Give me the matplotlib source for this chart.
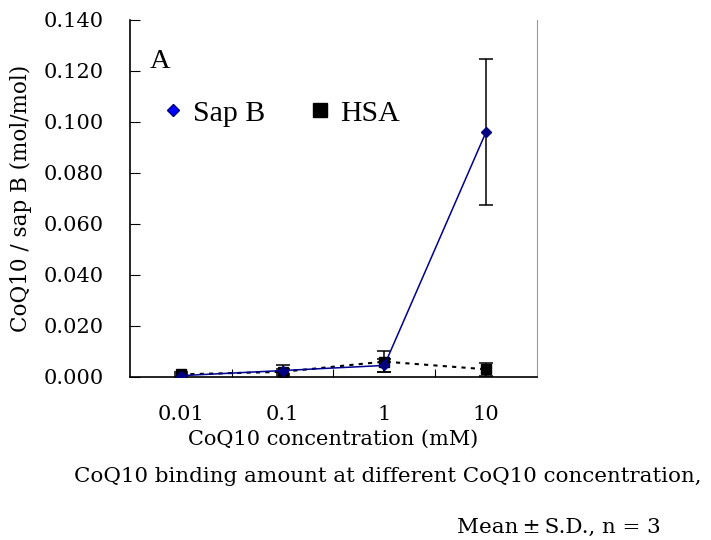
import matplotlib.pyplot as plt
from matplotlib.lines import Line2D

conc = ['0.01', '0.1', '1', '10']
sapb = [0.0005, 0.0025, 0.0045, 0.096]
sapb_sd = [0.0005, 0.002, 0.0025, 0.0285]
hsa = [0.001, 0.002, 0.006, 0.003]
hsa_sd = [0.0008, 0.001, 0.004, 0.0025]

plt.rcParams['font.family'] = ['DejaVu Serif']

fig = plt.figure(figsize=(7.11, 5.4), dpi=100)
ax = fig.add_axes([0.183, 0.302, 0.572, 0.661])

x = [0.5, 1.5, 2.5, 3.5]
ax.errorbar(x, hsa, yerr=hsa_sd, color='black', ls=(0, (2, 2.5)), lw=1.5,
            marker='s', ms=7.5, ecolor='black', elinewidth=1.1, capsize=4.7, capthick=1.1, zorder=2)
ax.errorbar(x, sapb, yerr=sapb_sd, color='#000090', lw=1.1,
            marker='D', ms=5.5, mfc='#000080', mec='#000080',
            ecolor='black', elinewidth=1.1, capsize=4.7, capthick=1.1, zorder=3)

ax.set_xlim(0, 4)
ax.set_ylim(0, 0.14)
ax.set_yticks([i * 0.02 for i in range(8)])
ax.set_yticklabels(['%.3f' % (i * 0.02) for i in range(8)])
ax.set_xticks([1, 2, 3])
ax.set_xticklabels([])
ax.set_xticks(x, minor=True)
ax.set_xticklabels(conc, minor=True)
ax.tick_params(axis='x', which='minor', length=0, pad=20, labelsize=15)
ax.tick_params(axis='x', which='major', direction='in', length=6)
ax.tick_params(axis='y', direction='in', length=7, labelsize=15, pad=19)
ax.spines['top'].set_visible(False)
ax.spines['right'].set_color('#999999')
ax.spines['left'].set_linewidth(1.2)
ax.spines['bottom'].set_linewidth(1.2)

ax.set_xlabel('CoQ10 concentration (mM)', fontsize=15, labelpad=4.5)
ax.set_ylabel('CoQ10 / sap B (mol/mol)', fontsize=15.5, labelpad=8)

ax.text(0.049, 0.866, 'A', transform=ax.transAxes, fontsize=20.5,
        family='Liberation Serif', va='baseline')
handles = [Line2D([], [], ls='none', marker='D', ms=6, mfc='blue', mec='#000080'),
           Line2D([], [], ls='none', marker='s', ms=9.4, mfc='black', mec='black')]
ax.legend(handles, ['Sap B', 'HSA'], ncol=2, frameon=False, loc='upper left',
          bbox_to_anchor=(0.076, 0.776), prop={'family': 'Liberation Serif', 'size': 21.5},
          borderpad=0, borderaxespad=0,
          handlelength=0.8, handletextpad=0.27, columnspacing=1.44)

fig.text(0.546, 0.107, 'CoQ10 binding amount at different CoQ10 concentration,',
         ha='center', fontsize=15.4)
fig.text(0.643, 0.013, 'Mean\u2009\u00b1\u2009S.D., n = 3', ha='left', fontsize=15.4)

fig.savefig('out.png', dpi=100)
